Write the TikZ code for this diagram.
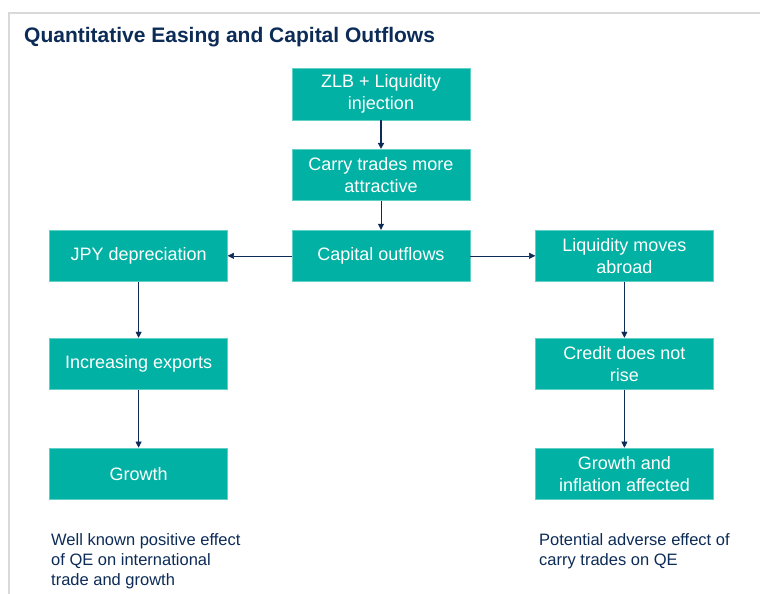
\documentclass[tikz,border=0pt]{standalone}
\usepackage{fontspec}
\setmainfont{Liberation Sans}
\usepackage{xcolor}
\usetikzlibrary{arrows.meta,positioning}

\definecolor{qeteal}{HTML}{00B1A4}
\definecolor{qeedge}{HTML}{5FD0C6}
\definecolor{qenavy}{HTML}{0C2B57}
\definecolor{qeframe}{HTML}{D9D9D9}

\begin{document}
\begin{tikzpicture}[x=1pt, y=-1pt,
        node distance=29pt and 64pt,
        box/.style={draw=qeedge, fill=qeteal, text=white, align=center, inner sep=2pt,
            minimum width=178pt, minimum height=51.5pt, font=\fontsize{18}{22}\selectfont},
        note/.style={anchor=north west, align=left, text=qenavy, inner sep=0pt,
            font=\fontsize{16.5}{20}\selectfont},
        >={Triangle[length=6pt,width=6pt]}]

        \useasboundingbox (0,0) rectangle (760,594);

        % Frame and heading
        \draw[qeframe, line width=2pt] (9,594) -- (9,13.5) -- (760,13.5);
        \node[anchor=west, inner sep=0pt, text=qenavy, font=\fontsize{21}{24}\selectfont\bfseries] (title) at (24,37) {Quantitative Easing and Capital Outflows};

        % Centre column
        \node[box] (zlb) at (381,94) {ZLB + Liquidity\\injection};
        \node[box, below=29pt of zlb] (carry) {Carry trades more\\attractive};
        \node[box, below=29pt of carry] (outflows) {Capital outflows};

        % Left branch
        \node[box, left=64pt of outflows] (jpy) {JPY depreciation};
        \node[box, below=56pt of jpy] (exports) {Increasing exports};
        \node[box, below=58pt of exports] (growth) {Growth};

        % Right branch
        \node[box, right=65pt of outflows] (abroad) {Liquidity moves\\abroad};
        \node[box, below=56pt of abroad] (credit) {Credit does not\\rise};
        \node[box, below=58pt of credit] (inflation) {Growth and\\inflation affected};

        % Notes
        \node[note] (posnote) at (51,533) {Well known positive effect\\of QE on international\\trade and growth};
        \node[note] (advnote) at (539,533) {Potential adverse effect of\\carry trades on QE};

        % Connections
        \draw[->, qenavy, line width=1.6pt] (zlb) -- (carry);
        \draw[->, qenavy] (carry) -- (outflows);
        \draw[->, qenavy] (outflows) -- (jpy);
        \draw[->, qenavy] (outflows) -- (abroad);

        \draw[->, qenavy] (jpy) -- (exports);
        \draw[->, qenavy] (exports) -- (growth);

        \draw[->, qenavy] (abroad) -- (credit);
        \draw[->, qenavy] (credit) -- (inflation);

\end{tikzpicture}
\end{document}
